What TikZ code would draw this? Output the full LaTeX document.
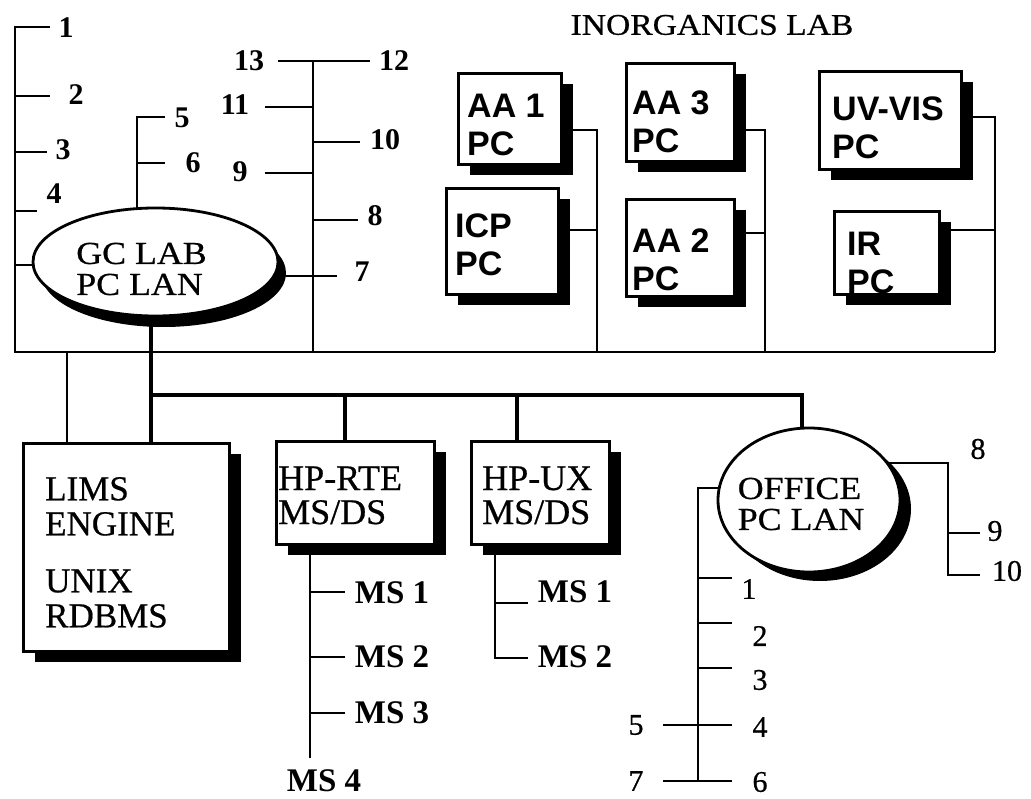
\documentclass[tikz,border=0pt]{standalone}
\usepackage{fontspec}
\setmainfont{Liberation Serif}
\newfontfamily\sansf{Liberation Sans}
\newfontfamily\heavyserif[FakeBold=0.6]{Liberation Serif}
\newfontfamily\wideserif[FakeStretch=1.12,FakeBold=0.6]{Liberation Serif}
\usetikzlibrary{shapes.geometric,shadows}
\pgfdeclarelayer{paper}
\pgfdeclarelayer{background}
\pgfsetlayers{paper,background,main}
\tikzset{
  bus/.style={line width=2.6pt},
  thinbus/.style={line width=2pt},
  thickbus/.style={line width=4.8pt},
  box/.style={draw, line width=2.8pt, fill=white, rectangle, inner sep=0pt, anchor=north west,
    drop shadow={shadow xshift=12pt, shadow yshift=-11pt, fill=black, opacity=1}},
  lan/.style={draw, ellipse, line width=2.8pt, fill=white, inner sep=0pt},
  pctext/.style={font=\sansf\bfseries\fontsize{34}{38}\selectfont, align=left, inner sep=0pt, anchor=west},
  srtext/.style={font=\heavyserif\fontsize{35}{35}\selectfont, align=left, inner sep=0pt, anchor=west},
  hptext/.style={font=\heavyserif\fontsize{36}{34}\selectfont, align=left, inner sep=0pt, anchor=west},
  lantext/.style={font=\wideserif\fontsize{32}{31}\selectfont, align=left, inner sep=0pt},
  numb/.style={font=\bfseries\fontsize{30}{30}\selectfont, inner sep=0pt},
  numr/.style={font=\heavyserif\fontsize{30}{30}\selectfont, inner sep=0pt},
  mslab/.style={font=\bfseries\fontsize{33}{33}\selectfont, inner sep=0pt},
}
\begin{document}
\begin{tikzpicture}[x=1pt,y=-1pt]
\useasboundingbox (0,0) rectangle (1031,799);
\begin{pgfonlayer}{paper}
\fill[white] (0,0) rectangle (1031,799);
\end{pgfonlayer}

% title
\node[font=\wideserif\fontsize{30}{30}\selectfont, inner sep=0pt] (title) at (712,25) {INORGANICS LAB};

% instrument PCs
\node[box, minimum width=103pt, minimum height=91pt] (aa1) at (457,72) {};
\node[pctext] (aa1t) at ([xshift=10pt,yshift=-6.5pt]aa1.west) {AA 1\\PC};
\node[box, minimum width=112pt, minimum height=106pt] (icp) at (445,187) {};
\node[pctext] (icpt) at ([xshift=10pt,yshift=-3pt]icp.west) {ICP\\PC};
\node[box, minimum width=108pt, minimum height=98pt] (aa3) at (625,62) {};
\node[pctext] (aa3t) at ([xshift=7pt,yshift=-9pt]aa3.west) {AA 3\\PC};
\node[box, minimum width=108pt, minimum height=97pt] (aa2) at (625,198) {};
\node[pctext] (aa2t) at ([xshift=7pt,yshift=-12pt]aa2.west) {AA 2\\PC};
\node[box, minimum width=142pt, minimum height=98pt] (uv) at (818,70) {};
\node[pctext] (uvt) at ([xshift=14pt,yshift=-7pt]uv.west) {UV-VIS\\PC};
\node[box, minimum width=105pt, minimum height=83pt] (ir) at (833,210) {};
\node[pctext] (irt) at ([xshift=14pt,yshift=-10pt]ir.west) {IR\\PC};

% servers
\node[box, minimum width=206pt, minimum height=208pt] (lims) at (22,442) {};
\node[srtext] (limst) at ([xshift=23pt,yshift=-5pt]lims.west) {LIMS\\ENGINE\\[22pt]UNIX\\RDBMS};
\node[box, minimum width=158pt, minimum height=103pt] (hprte) at (275,440) {};
\node[hptext] (hprtet) at ([xshift=3pt,yshift=-2.5pt]hprte.west) {HP-RTE\\MS/DS};
\node[box, minimum width=138pt, minimum height=103pt] (hpux) at (470,440) {};
\node[hptext] (hpuxt) at ([xshift=12pt,yshift=-2.5pt]hpux.west) {HP-UX\\MS/DS};

% LANs
\node[lan, minimum width=245pt, minimum height=108pt,
  drop shadow={shadow xshift=8pt, shadow yshift=-11pt, fill=black, opacity=1}] (gc) at (155.5,262) {};
\node[lantext] (gct) at (141.5,269) {GC LAB\\PC LAN};
\node[lan, minimum width=182pt, minimum height=144pt,
  drop shadow={shadow xshift=11pt, shadow yshift=-9pt, fill=black, opacity=1}] (office) at (809,500) {};
\node[lantext] (offt) at (801,504) {OFFICE\\PC LAN};

% GC lab numbers
\node[numb] (n1) at (66,28) {1};
\node[numb] (n2) at (76,95) {2};
\node[numb] (n3) at (63,150) {3};
\node[numb] (n4) at (54,194) {4};
\node[numb] (n5) at (182,118) {5};
\node[numb] (n6) at (193,163) {6};
\node[numb] (n13) at (249,61) {13};
\node[numb] (n12) at (394,61) {12};
\node[numb] (n11) at (235,105) {11};
\node[numb] (n10) at (385,140) {10};
\node[numb] (n9) at (240,172) {9};
\node[numb] (n8) at (375,216) {8};
\node[numb] (n7) at (362,272) {7};

% office numbers
\node[numr] (o1) at (749,589) {1};
\node[numr] (o2) at (760,636) {2};
\node[numr] (o3) at (760,680) {3};
\node[numr] (o4) at (760,727) {4};
\node[numr] (o5) at (636,725) {5};
\node[numr] (o6) at (760,782) {6};
\node[numr] (o7) at (636,781) {7};
\node[numr] (o8) at (978,449) {8};
\node[numr] (o9) at (995,531) {9};
\node[numr] (o10) at (1007,571) {10};

% MS labels
\node[mslab] (ra1) at (392,593) {MS 1};
\node[mslab] (ra2) at (392,657) {MS 2};
\node[mslab] (ra3) at (392,713) {MS 3};
\node[mslab] (ra4) at (324,781) {MS 4};
\node[mslab] (ux1) at (575,592) {MS 1};
\node[mslab] (ux2) at (575,657) {MS 2};

% coordinates
\coordinate (L1) at (15,27); \coordinate (L1e) at (50,27);
\coordinate (L2) at (15,96); \coordinate (L2e) at (50,96);
\coordinate (L3) at (15,152); \coordinate (L3e) at (47,152);
\coordinate (L4) at (15,211); \coordinate (L4e) at (37,211);
\coordinate (Lg) at (15,265);
\coordinate (TBl) at (15,352); \coordinate (TBr) at (995,352);
\coordinate (V5) at (137,117); \coordinate (V5e) at (165,117);
\coordinate (V6) at (137,163); \coordinate (V6e) at (165,163);
\coordinate (R13) at (313,61); \coordinate (R13a) at (278,61); \coordinate (R12b) at (370,61);
\coordinate (R11) at (313,107); \coordinate (R11e) at (265,107);
\coordinate (R10) at (313,142); \coordinate (R10e) at (360,142);
\coordinate (R9) at (313,173); \coordinate (R9e) at (265,173);
\coordinate (R8) at (313,220); \coordinate (R8e) at (358,220);
\coordinate (R7e) at (337,276);
\coordinate (Rb) at (313,352);
\coordinate (G0) at (151,352);
\coordinate (Lm) at (67,352);
\coordinate (LBl) at (151,395); \coordinate (LBr) at (802,395);
\coordinate (Hr) at (345,395); \coordinate (Hu) at (517,395);
\coordinate (I1) at (597,130); \coordinate (I2) at (597,230); \coordinate (I1b) at (597,352);
\coordinate (I3) at (765,130); \coordinate (I4) at (765,233); \coordinate (I3b) at (765,352);
\coordinate (I5) at (995,117); \coordinate (I6) at (995,230);
\coordinate (S1) at (310,592); \coordinate (S1e) at (345,592);
\coordinate (S2) at (310,657); \coordinate (S2e) at (345,657);
\coordinate (S3) at (310,713); \coordinate (S3e) at (345,713);
\coordinate (S4) at (310,758);
\coordinate (U1) at (495,603); \coordinate (U1e) at (528,603);
\coordinate (U2) at (495,658); \coordinate (U2e) at (528,658);
\coordinate (OL) at (698,488); \coordinate (OB) at (698,781);
\coordinate (O1) at (698,578); \coordinate (O1e) at (732,578);
\coordinate (O2) at (698,623); \coordinate (O2e) at (732,623);
\coordinate (O3) at (698,668); \coordinate (O3e) at (732,668);
\coordinate (O4a) at (663,725); \coordinate (O4b) at (732,725);
\coordinate (O6a) at (663,781); \coordinate (O6b) at (732,781);
\coordinate (OR) at (948,463);
\coordinate (O9) at (948,533); \coordinate (O9e) at (980,533);
\coordinate (O10) at (948,575); \coordinate (O10e) at (980,575);

\begin{pgfonlayer}{background}
% GC lab buses
\draw[bus] (L1e) -- (L1) -- (TBl) -- (TBr);
\draw[bus] (L2) -- (L2e);
\draw[bus] (L3) -- (L3e);
\draw[bus] (L4) -- (L4e);
\draw[bus] (Lg) -- (Lg -| gc.center);
\draw[bus] (V5e) -- (V5) -- (V5 |- gc.center);
\draw[bus] (V6) -- (V6e);
\draw[bus] (R13a) -- (R12b);
\draw[bus] (R13) -- (Rb);
\draw[bus] (R11e) -- (R11);
\draw[bus] (R10) -- (R10e);
\draw[bus] (R9e) -- (R9);
\draw[bus] (R8) -- (R8e);
\draw[bus] (R7e) -- (R7e -| gc.center);
% backbone
\draw[thickbus] (G0 |- gc.center) -- (G0) -- (G0 |- lims.center);
\draw[bus] (Lm) -- (Lm |- lims.center);
\draw[thickbus] (LBl) -- (LBr) -- (LBr |- office.center);
\draw[thickbus] (Hr) -- (Hr |- hprte.center);
\draw[thickbus] (Hu) -- (Hu |- hpux.center);
% inorganics lab
\draw[thinbus] (I1 -| aa1.center) -- (I1) -- (I1b);
\draw[thinbus] (I2 -| icp.center) -- (I2);
\draw[thinbus] (I3 -| aa3.center) -- (I3) -- (I3b);
\draw[thinbus] (I4 -| aa2.center) -- (I4);
\draw[thinbus] (I5 -| uv.center) -- (I5) -- (TBr);
\draw[thinbus] (I6 -| ir.center) -- (I6);
% HP-RTE
\draw[bus] (S4 |- hprte.center) -- (S4);
\draw[bus] (S1) -- (S1e);
\draw[bus] (S2) -- (S2e);
\draw[bus] (S3) -- (S3e);
% HP-UX
\draw[bus] (U1 |- hpux.center) -- (U2) -- (U2e);
\draw[bus] (U1) -- (U1e);
% office
\draw[bus] (OL -| office.center) -- (OL) -- (OB);
\draw[bus] (O1) -- (O1e);
\draw[bus] (O2) -- (O2e);
\draw[bus] (O3) -- (O3e);
\draw[bus] (O4a) -- (O4b);
\draw[bus] (O6a) -- (O6b);
\draw[bus] (OR -| office.center) -- (OR) -- (O10) -- (O10e);
\draw[bus] (O9) -- (O9e);
\end{pgfonlayer}
\end{tikzpicture}
\end{document}
